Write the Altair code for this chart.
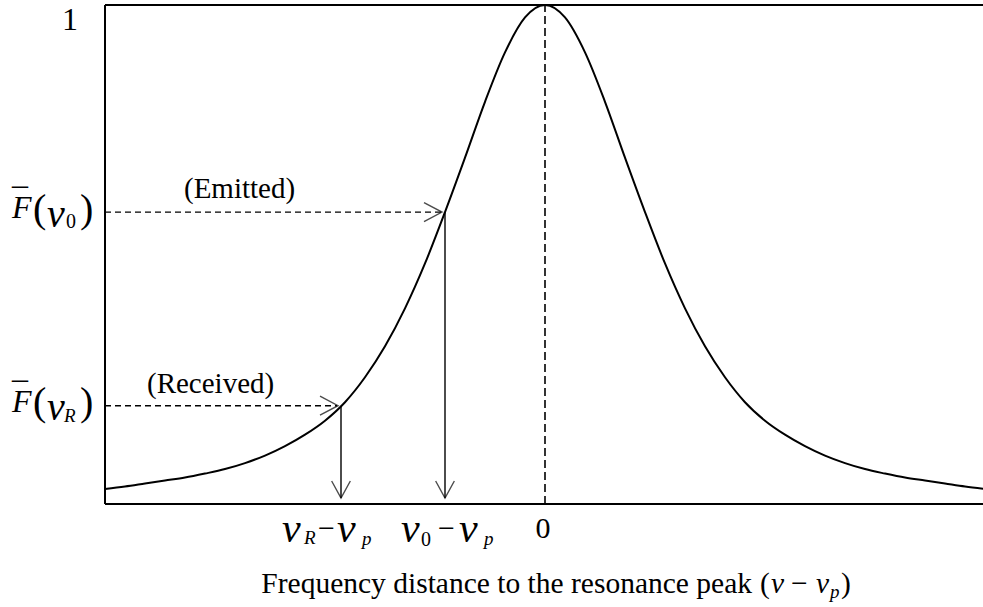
import altair as alt
import pandas as pd

SERIF = "Liberation Serif"

# Normalised response curve: frequency offset from the peak (in units) and height
freq = [-4.4, -4.2, -4.0, -3.8, -3.6, -3.4, -3.2, -3.0, -2.8, -2.6, -2.4, -2.2,
        -2.0, -1.8, -1.6, -1.4, -1.2, -1.0, -0.8, -0.6, -0.4, -0.2, 0.0,
        0.2, 0.4, 0.6, 0.8, 1.0, 1.2, 1.4, 1.6, 1.8, 2.0, 2.2, 2.4, 2.6,
        2.8, 3.0, 3.2, 3.4, 3.6, 3.8, 4.0, 4.2, 4.4]
response = [0.030, 0.035, 0.041, 0.047, 0.053, 0.061, 0.070, 0.082, 0.097, 0.116, 0.139, 0.167,
            0.204, 0.254, 0.316, 0.392, 0.482, 0.585, 0.694, 0.806, 0.905, 0.975, 1.000,
            0.975, 0.905, 0.806, 0.694, 0.585, 0.482, 0.392, 0.316, 0.254, 0.204, 0.167, 0.139, 0.116,
            0.097, 0.082, 0.070, 0.061, 0.053, 0.047, 0.041, 0.035, 0.030]

# Marked frequencies (received, emitted) and their heights on the curve
marked_freq = [-2.04, -1.0]
marked_level = [0.197, 0.585]
marked_name = ["(Received)", "(Emitted)"]
peak_freq = 0.0
top_level = 1.0

X_MIN, X_MAX = freq[0], freq[-1]
xs = alt.Scale(domain=[X_MIN, 4.38], nice=False, zero=False)
ys = alt.Scale(domain=[0, 1], nice=False, zero=False)

curve_df = pd.DataFrame({"f": freq, "r": response})
marks_df = pd.DataFrame({"f": marked_freq, "r": marked_level, "name": marked_name,
                         "left": [X_MIN] * 2, "base": [0.0] * 2})

# Open frame: left, bottom and top sides only
frame_h = alt.Chart(pd.DataFrame({"a": [X_MIN, X_MIN], "b": [X_MAX, X_MAX],
                                  "r": [0.0, top_level]})).mark_rule(
    color="black", strokeWidth=2
).encode(x=alt.X("a:Q", scale=xs, axis=None), x2="b:Q", y=alt.Y("r:Q", scale=ys, axis=None))

frame_v = alt.Chart(pd.DataFrame({"f": [X_MIN], "lo": [0.0], "hi": [top_level]})).mark_rule(
    color="black", strokeWidth=2
).encode(x=alt.X("f:Q", scale=xs), y=alt.Y("lo:Q", scale=ys), y2="hi:Q")

curve = alt.Chart(curve_df).mark_line(
    color="black", strokeWidth=2, interpolate="monotone"
).encode(x=alt.X("f:Q", scale=xs), y=alt.Y("r:Q", scale=ys))

peak_line = alt.Chart(pd.DataFrame({"f": [peak_freq], "lo": [0.0], "hi": [top_level]})).mark_rule(
    color="black", strokeWidth=1.6, strokeDash=[8, 4]
).encode(x=alt.X("f:Q", scale=xs), y=alt.Y("lo:Q", scale=ys), y2="hi:Q")

# Dashed level lines ending in open arrowheads just before the curve
level_lines = alt.Chart(marks_df).mark_rule(
    color="black", strokeWidth=1.4, strokeDash=[6, 4], x2Offset=-4
).encode(x=alt.X("left:Q", scale=xs), x2="f:Q", y=alt.Y("r:Q", scale=ys))

right_heads = alt.Chart(marks_df).mark_point(
    shape="M-1,-0.53L0,0L-1,0.53", size=1296, filled=False, color="black",
    strokeWidth=1.4, xOffset=-3
).encode(x=alt.X("f:Q", scale=xs), y=alt.Y("r:Q", scale=ys))

# Solid drop lines from the curve down to the frequency axis
drop_lines = alt.Chart(marks_df).mark_rule(
    color="black", strokeWidth=1.4, y2Offset=-6
).encode(x=alt.X("f:Q", scale=xs), y=alt.Y("r:Q", scale=ys), y2="base:Q")

down_heads = alt.Chart(marks_df).mark_point(
    shape="M-0.55,-1L0,0L0.55,-1", size=1156, filled=False, color="black",
    strokeWidth=1.4, yOffset=-6
).encode(x=alt.X("f:Q", scale=xs), y=alt.Y("base:Q", scale=ys))


def txt(text, fx, fy, size, dx, dy, italic=False, align="left"):
    df = pd.DataFrame({"f": [fx], "r": [fy], "t": [text]})
    return alt.Chart(df).mark_text(
        font=SERIF, fontSize=size, fontStyle="italic" if italic else "normal",
        align=align, baseline="alphabetic", dx=dx, dy=dy, color="black"
    ).encode(x=alt.X("f:Q", scale=xs), y=alt.Y("r:Q", scale=ys), text="t:N")


rec_f, emi_f = marked_freq
rec_l, emi_l = marked_level

layers = [frame_h, frame_v, curve, peak_line, level_lines, right_heads, drop_lines, down_heads]

# Arrow captions
layers += [
    txt(marked_name[0], rec_f, rec_l, 29, -194, -13),
    txt(marked_name[1], emi_f, emi_l, 29, -261, -14),
]

# Vertical-axis labels: 1, F̄(ν_0), F̄(ν_R)
layers.append(txt("1", X_MIN, top_level, 32, -43, 25))
for lvl, sub, sub_italic in [(emi_l, "0", False), (rec_l, "R", True)]:
    layers += [
        txt("_", X_MIN, lvl, 32, -93, -28),
        txt("F", X_MIN, lvl, 32, -93, 6, italic=True),
        txt("(", X_MIN, lvl, 40, -72, 9.5),
        txt("ν", X_MIN, lvl, 40, -58, 14.5, italic=True),
        txt(sub, X_MIN, lvl, 19 if sub_italic else 20, -41 if sub_italic else -39,
            16, italic=sub_italic),
        txt(")", X_MIN, lvl, 40, -25, 9.5),
    ]

# Frequency-axis labels: ν_R − ν_p, ν_0 − ν_p, 0
layers += [
    txt("ν", rec_f, 0, 42, -59, 38, italic=True),
    txt("R", rec_f, 0, 19, -37, 40, italic=True),
    txt("−", rec_f, 0, 30, -23, 33.5),
    txt("ν", rec_f, 0, 42, -4, 38, italic=True),
    txt("p", rec_f, 0, 19, 21, 41, italic=True),
    txt("ν", emi_f, 0, 42, -44, 38, italic=True),
    txt("0", emi_f, 0, 20, -24, 42),
    txt("−", emi_f, 0, 30, -7, 33.5),
    txt("ν", emi_f, 0, 42, 14, 38, italic=True),
    txt("p", emi_f, 0, 19, 39, 41, italic=True),
    txt("0", peak_freq, 0, 30, -2, 34, align="center"),
]

# Axis title: Frequency distance to the resonance peak (ν − ν_p)
layers += [
    txt("Frequency distance to the resonance peak", peak_freq, 0, 29.5, 207, 89, align="right"),
    txt("(", peak_freq, 0, 29.5, 215, 89),
    txt("ν", peak_freq, 0, 29.5, 226, 89, italic=True),
    txt("−", peak_freq, 0, 29.5, 246, 89),
    txt("ν", peak_freq, 0, 29.5, 271, 89, italic=True),
    txt("p", peak_freq, 0, 19, 285, 94, italic=True),
    txt(")", peak_freq, 0, 29.5, 296, 89),
]

chart = alt.layer(*layers).properties(
    width=878, height=499,
    autosize=alt.AutoSizeParams(type="none"),
    padding={"left": 105, "top": 5, "right": 0, "bottom": 103},
    background="white",
).configure_view(stroke=None)

chart.save("out.html", embed_options={"renderer": "svg", "actions": False})
